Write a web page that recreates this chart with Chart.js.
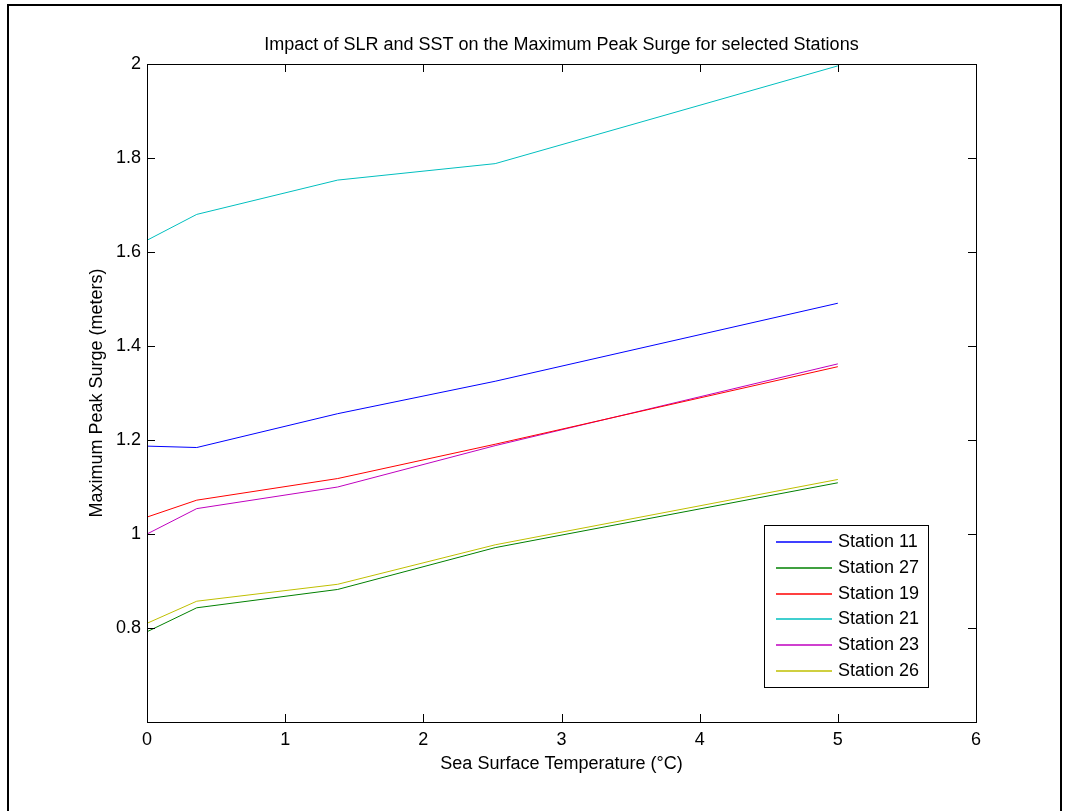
<!DOCTYPE html>
<html>
<head>
<meta charset="utf-8">
<script src="https://cdn.jsdelivr.net/npm/chart.js@4.4.1/dist/chart.umd.min.js"></script>
<style>
    html, body { margin: 0; padding: 0; background: #fff; }
    #wrap { position: relative; width: 1068px; height: 811px; }
</style>
</head>
<body>
<div id="wrap"><canvas id="myChart" width="1068" height="811"></canvas></div>
<script>
// sea surface temperature increments (x values)
const sstTemps = [0, 0.36, 1.38, 2.52, 5];

// maximum peak surge (meters) per station
const station11 = [1.187, 1.184, 1.256, 1.325, 1.491];
const station27 = [0.792, 0.843, 0.882, 0.971, 1.109];
const station19 = [1.036, 1.072, 1.118, 1.191, 1.356];
const station21 = [1.625, 1.680, 1.753, 1.788, 1.996];
const station23 = [1.000, 1.054, 1.100, 1.188, 1.362];
const station26 = [0.810, 0.857, 0.893, 0.977, 1.116];

const stationNames = ['Station 11', 'Station 27', 'Station 19', 'Station 21', 'Station 23', 'Station 26'];
const stationColors = ['#0000ff', '#008000', '#ff0000', '#00bfbf', '#bf00bf', '#bfbf00'];
const stationValues = [station11, station27, station19, station21, station23, station26];

const xTicks = [0, 1, 2, 3, 4, 5, 6];
const yTicks = [0.8, 1, 1.2, 1.4, 1.6, 1.8, 2];

const chartTitle = 'Impact of SLR and SST on the Maximum Peak Surge for selected Stations';
const FONT = '"Liberation Sans", Arial, sans-serif';

function toPoints(values) {
    return values.map((v, i) => ({ x: sstTemps[i], y: v }));
}

// axes box, inward ticks (matlab style), title, figure frame and legend
const matlabLook = {
    id: 'matlabLook',
    afterDraw(chart) {
        const ctx = chart.ctx;
        const a = chart.chartArea;
        const xs = chart.scales.x;
        const ys = chart.scales.y;
        const tl = 8;
        ctx.save();
        ctx.strokeStyle = '#000';
        ctx.lineWidth = 1;
        ctx.strokeRect(Math.round(a.left) + 0.5, Math.round(a.top) + 0.5,
            Math.round(a.right - a.left), Math.round(a.bottom - a.top));

        ctx.beginPath();
        xTicks.forEach(v => {
            const px = Math.round(xs.getPixelForValue(v)) + 0.5;
            ctx.moveTo(px, a.bottom); ctx.lineTo(px, a.bottom - tl);
            ctx.moveTo(px, a.top); ctx.lineTo(px, a.top + tl);
        });
        yTicks.forEach(v => {
            const py = Math.round(ys.getPixelForValue(v)) + 0.5;
            ctx.moveTo(a.left, py); ctx.lineTo(a.left + tl, py);
            ctx.moveTo(a.right, py); ctx.lineTo(a.right - tl, py);
        });
        ctx.stroke();

        // title centred over the axes
        ctx.fillStyle = '#000';
        ctx.font = '18px ' + FONT;
        ctx.textAlign = 'center';
        ctx.textBaseline = 'middle';
        ctx.fillText(chartTitle, (a.left + a.right) / 2, 45);

        // figure frame
        ctx.lineWidth = 2;
        ctx.beginPath();
        ctx.moveTo(8, 812); ctx.lineTo(8, 5); ctx.lineTo(1061, 5); ctx.lineTo(1061, 812);
        ctx.stroke();

        // legend box
        const lx = 764, ly = 525, lw = 164, lh = 162;
        ctx.fillStyle = '#fff';
        ctx.fillRect(lx, ly, lw, lh);
        ctx.lineWidth = 1;
        ctx.strokeStyle = '#000';
        ctx.strokeRect(lx + 0.5, ly + 0.5, lw, lh);
        ctx.textAlign = 'left';
        stationNames.forEach((name, i) => {
            const y = Math.round(542 + i * 25.8);
            ctx.strokeStyle = stationColors[i];
            ctx.lineWidth = 1.4;
            ctx.beginPath();
            ctx.moveTo(776, y);
            ctx.lineTo(832, y);
            ctx.stroke();
            ctx.fillStyle = '#000';
            ctx.fillText(name, 838, y + 0.5);
        });
        ctx.restore();
    }
};

const ctx = document.getElementById('myChart').getContext('2d');
const myChart = new Chart(ctx, {
    type: 'line',
    data: {
        datasets: stationValues.map((vals, i) => ({
            label: stationNames[i],
            data: toPoints(vals),
            borderColor: stationColors[i],
            backgroundColor: stationColors[i],
            borderWidth: 1,
            pointRadius: 0,
            tension: 0,
            fill: false
        }))
    },
    options: {
        responsive: false,
        animation: false,
        devicePixelRatio: 1,
        layout: { padding: { left: 0, right: 92, top: 64, bottom: 0 } },
        plugins: {
            legend: { display: false },
            tooltip: { enabled: false },
            title: { display: false }
        },
        scales: {
            x: {
                type: 'linear',
                min: 0,
                max: 6,
                afterBuildTicks: (s) => { s.ticks = xTicks.map(v => ({ value: v })); },
                afterFit: (s) => { s.height = 89; },
                grid: { display: false, drawTicks: false },
                border: { display: false },
                ticks: {
                    color: '#000',
                    padding: 7,
                    maxRotation: 0,
                    font: { family: FONT, size: 18 }
                },
                title: {
                    display: true,
                    text: 'Sea Surface Temperature (°C)',
                    color: '#000',
                    font: { family: FONT, size: 18 },
                    padding: { top: 0, bottom: 36.2 }
                }
            },
            y: {
                min: 0.6,
                max: 2,
                afterBuildTicks: (s) => { s.ticks = yTicks.map(v => ({ value: v })); },
                afterFit: (s) => { s.width = 147; },
                grid: { display: false, drawTicks: false },
                border: { display: false },
                ticks: {
                    color: '#000',
                    padding: 6,
                    font: { family: FONT, size: 18 },
                    callback: (v) => String(Math.round(v * 10) / 10)
                },
                title: {
                    display: true,
                    text: 'Maximum Peak Surge (meters)',
                    color: '#000',
                    font: { family: FONT, size: 18 },
                    padding: { top: 86.2, bottom: 0 }
                }
            }
        }
    },
    plugins: [matlabLook]
});
</script>
</body>
</html>
